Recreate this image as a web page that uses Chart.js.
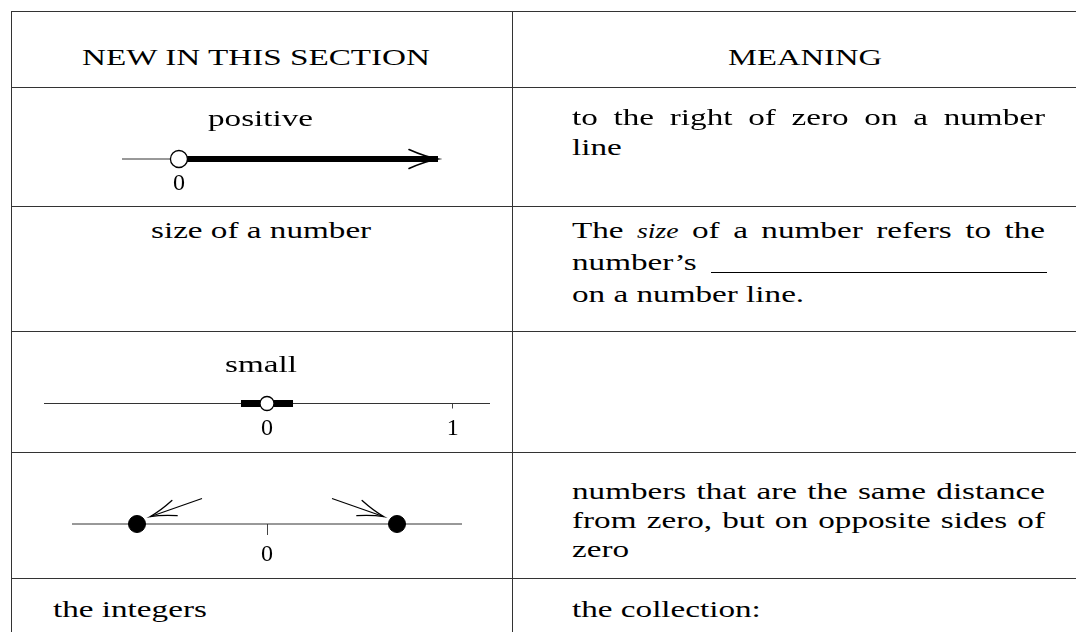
<!DOCTYPE html>
<html>
<head>
<meta charset="utf-8">
<title>New in this section</title>
<script src="https://cdn.jsdelivr.net/npm/chart.js@4.4.1/dist/chart.umd.min.js"></script>
<style>
    html, body { margin: 0; padding: 0; background: #fff; }
    body { width: 1076px; height: 632px; position: relative; overflow: hidden; font-family: "Liberation Serif", serif; color: #000; }
    .hl { position: absolute; height: 1px; background: #333; }
    .vl { position: absolute; width: 1px; background: #333; }
    .t { position: absolute; white-space: pre; font-size: 24px; line-height: normal; transform-origin: 0 0; }
    .t .bl { display: inline-block; width: 0; height: 0; }
    .t i { font-size: 20px; }
    canvas { position: absolute; }
</style>
</head>
<body>
<canvas id="linePositive"></canvas>
<canvas id="lineSmall"></canvas>
<canvas id="lineOpposite"></canvas>
<script>
// ---- table text ----
const headers = ["NEW IN THIS SECTION", "MEANING"];
const terms = ["positive", "size of a number", "small", "", "the integers"];
const meanings = [
    ["to the right of zero on a number", "line"],
    ["The <i>size</i> of a number refers to the", "number\u2019s", "on a number line."],
    [],
    ["numbers that are the same distance", "from zero, but on opposite sides of", "zero"],
    ["the collection:"]
];

// ---- number line data ----
// positive: thin line left of 0, thick ray from 0 with arrow, open circle at 0
const posLine = [-1, 0];
const posRay = [0, 4.55];
const posOpen = [0];
const posTicks = [0];

// small: short thick bar around 0, open circle at 0
const smallLine = [-1.2, 1.2];
const smallBar = [-0.14, 0.14];
const smallOpen = [0];
const smallTicks = [0, 1];

// opposites: two dots at the same distance from 0, arrows pointing at them
const oppLine = [-1.5, 1.5];
const oppDots = [-1, 1];
const oppArrowLeft = [[-0.5, 0.7], [-0.9, 0.2]];
const oppArrowRight = [[0.5, 0.7], [0.9, 0.2]];
const oppTicks = [0];

// ---- layout ----
const rowLines = [11, 87, 206, 331, 452, 578];
const colLines = [11, 512];
const termBase = [126, 238, 372, null, 617];
const meaningBase = [[125, 155], [238, 270, 302], [], [499, 528, 557], [617]];
const rightX = 572, rightW = 473;

rowLines.forEach(y => {
    const d = document.createElement("div");
    d.className = "hl";
    d.style.left = "11px"; d.style.top = y + "px"; d.style.width = "1065px";
    document.body.appendChild(d);
});
colLines.forEach(x => {
    const d = document.createElement("div");
    d.className = "vl";
    d.style.left = x + "px"; d.style.top = "11px"; d.style.height = "621px";
    document.body.appendChild(d);
});

let K = 1.4; // horizontal stretch, reset from the header width

function addText(html, o) {
    const d = document.createElement("div");
    d.className = "t";
    d.innerHTML = '<span class="tx">' + html + '</span><span class="bl"></span>';
    document.body.appendChild(d);
    const natural = d.querySelector(".tx").getBoundingClientRect().width;
    const base = d.querySelector(".bl").offsetTop;
    let sx = K;
    if (o.w && o.justify) {
        const spaces = (d.textContent.match(/ /g) || []).length;
        d.style.wordSpacing = ((o.w / K - natural) / spaces) + "px";
    } else if (o.w) {
        sx = o.w / natural;
    }
    d.style.transform = "scaleX(" + sx + ")";
    const left = o.cx !== undefined ? o.cx - natural * sx / 2 : o.x;
    d.style.left = left + "px";
    d.style.top = (o.y - base) + "px";
    return natural;
}

// header fixes the stretch for the rest
const probe = document.createElement("span");
probe.style.font = '24px "Liberation Serif"';
probe.style.whiteSpace = "pre";
probe.textContent = headers[0];
document.body.appendChild(probe);
K = 348 / probe.getBoundingClientRect().width;
probe.remove();

addText(headers[0], { cx: 256, y: 65, w: 348 });
addText(headers[1], { cx: 805, y: 65, w: 154 });

terms.forEach((t, i) => {
    if (!t) return;
    if (i === terms.length - 1) addText(t, { x: 53, y: termBase[i] });
    else addText(t, { cx: 261, y: termBase[i] });
});

meanings.forEach((lines, i) => {
    lines.forEach((ln, j) => {
        const last = j === lines.length - 1;
        const fill = ln === "number\u2019s";
        const n = addText(ln, { x: rightX, y: meaningBase[i][j], w: last || fill ? 0 : rightW, justify: true });
        if (fill) {
            const u = document.createElement("div");
            u.className = "hl";
            u.style.background = "#000";
            const x0 = rightX + n * K + 14;
            u.style.left = x0 + "px";
            u.style.top = (meaningBase[i][j] + 2) + "px";
            u.style.width = (rightX + rightW + 2 - x0) + "px";
            document.body.appendChild(u);
        }
    });
});

// ---- charts ----
const arrowHeads = {
    id: "arrowHeads",
    afterDatasetsDraw(chart) {
        const ctx = chart.ctx;
        chart.data.datasets.forEach((ds, i) => {
            if (!ds.arrow) return;
            const pts = chart.getDatasetMeta(i).data;
            const a = pts[pts.length - 2], b = pts[pts.length - 1];
            const ang = Math.atan2(b.y - a.y, b.x - a.x);
            const L = ds.arrow.len, h = ds.arrow.spread;
            ctx.save();
            ctx.strokeStyle = "#000";
            ctx.lineWidth = ds.arrow.width;
            ctx.lineCap = "round";
            ctx.translate(b.x, b.y);
            ctx.rotate(ang);
            ctx.beginPath();
            ctx.moveTo(-L, -h);
            ctx.quadraticCurveTo(-L * 0.45, -h * 0.25, 0, 0);
            ctx.quadraticCurveTo(-L * 0.45, h * 0.25, -L, h);
            ctx.stroke();
            ctx.restore();
        });
    }
};

const xy = arr => arr.map(x => ({ x: x, y: 0 }));
const pairs = arr => arr.map(p => ({ x: p[0], y: p[1] }));

function numberLine(id, o) {
    const el = document.getElementById(id);
    const padL = 16, padR = 16, padT = 8, area = 30;
    el.width = Math.round((o.max - o.min) * o.unit) + padL + padR;
    el.height = padT + area + Math.ceil(o.tickLen + o.pad + 24 * 1.2) + 1;
    const chart = new Chart(el, {
        type: "scatter",
        data: { datasets: o.datasets },
        options: {
            responsive: false,
            animation: false,
            events: [],
            layout: { padding: { left: padL, right: padR, top: padT, bottom: 0 } },
            plugins: { legend: { display: false }, tooltip: { enabled: false } },
            scales: {
                x: {
                    type: "linear", min: o.min, max: o.max,
                    afterBuildTicks: s => { s.ticks = o.ticks.map(v => ({ value: v })); },
                    ticks: {
                        color: "#000", padding: o.pad, autoSkip: false, maxRotation: 0,
                        font: { family: "Liberation Serif", size: 24 },
                        callback: v => String(v)
                    },
                    grid: {
                        drawOnChartArea: false, drawTicks: true, tickLength: o.tickLen,
                        color: "#444", tickColor: o.tickLen ? "#444" : "rgba(0,0,0,0)", lineWidth: 1
                    },
                    border: { display: false }
                },
                y: { display: false, min: 0, max: 1 }
            }
        },
        plugins: [arrowHeads]
    });
    el.style.left = (o.zeroX - chart.scales.x.getPixelForValue(0)) + "px";
    el.style.top = (o.lineY - chart.scales.y.getPixelForValue(0)) + "px";
    return chart;
}

const thin = data => ({ data: data, showLine: true, borderColor: "#333", borderWidth: 1, pointRadius: 0, clip: false });

numberLine("linePositive", {
    min: -1, max: 4.55, unit: 57, zeroX: 179, lineY: 159, tickLen: 0, pad: 10, ticks: posTicks,
    datasets: [
        { data: xy(posOpen), showLine: false, pointRadius: 8.5, pointBackgroundColor: "#fff", pointBorderColor: "#000", pointBorderWidth: 1.3, clip: false },
        { data: xy(posRay), showLine: true, borderColor: "#000", borderWidth: 6, pointRadius: 0, clip: false, arrow: { len: 29, spread: 9.5, width: 1.6 } },
        thin(xy(posLine))
    ]
});

numberLine("lineSmall", {
    min: -1.2, max: 1.2, unit: 186, zeroX: 267, lineY: 403, tickLen: 5, pad: 6, ticks: smallTicks,
    datasets: [
        { data: xy(smallOpen), showLine: false, pointRadius: 7, pointBackgroundColor: "#fff", pointBorderColor: "#000", pointBorderWidth: 1.3, clip: false },
        { data: xy(smallBar), showLine: true, borderColor: "#000", borderWidth: 7, pointRadius: 0, clip: false },
        thin(xy(smallLine))
    ]
});

numberLine("lineOpposite", {
    min: -1.5, max: 1.5, unit: 130, zeroX: 267, lineY: 524, tickLen: 11, pad: 5, ticks: oppTicks,
    datasets: [
        { data: xy(oppDots), showLine: false, pointRadius: 8.5, pointBackgroundColor: "#000", pointBorderColor: "#000", pointBorderWidth: 1, clip: false },
        { data: pairs(oppArrowLeft), showLine: true, borderColor: "#000", borderWidth: 1.2, pointRadius: 0, clip: false, arrow: { len: 26, spread: 8, width: 1.3 } },
        { data: pairs(oppArrowRight), showLine: true, borderColor: "#000", borderWidth: 1.2, pointRadius: 0, clip: false, arrow: { len: 26, spread: 8, width: 1.3 } },
        thin(xy(oppLine))
    ]
});
</script>
</body>
</html>
